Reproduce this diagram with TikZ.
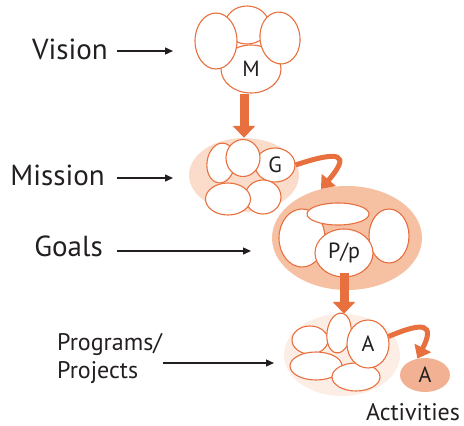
\documentclass[tikz,border=0pt]{standalone}
\usepackage{fontspec}
\setmainfont{PT Sans}
\usetikzlibrary{shapes.geometric,arrows.meta}
\definecolor{orng}{HTML}{E8703F}
\definecolor{misbg}{HTML}{FBDCCB}
\definecolor{goalbg}{HTML}{F6C0A3}
\definecolor{progbg}{HTML}{FCEEE5}
\definecolor{actbg}{HTML}{F2B193}
\definecolor{ink}{HTML}{231F20}
\tikzset{blob/.style={ellipse, draw=orng, fill=white, line width=1.1pt, inner sep=0pt, text=ink, font=\fontsize{22}{22}\selectfont}}
\tikzset{bg/.style={ellipse, inner sep=0pt}}
\tikzset{sz/.style 2 args={minimum width=#1pt, minimum height=#2pt}}
\tikzset{lbl/.style={inner sep=0pt, text=ink, font=\fontsize{29}{29}\selectfont}}
\tikzset{ptr/.style={ink, line width=1.4pt, -{Triangle[length=8pt,width=7pt]}}}
\tikzset{fat/.style={orng, line width=9pt, -{Triangle[length=12pt,width=22pt]}}}
\tikzset{curvy/.style={orng, line width=5pt, -{Triangle[length=12pt,width=18pt]}}}

\begin{document}
\begin{tikzpicture}[x=1pt, y=-1pt]
    \useasboundingbox (0,0) rectangle (464,426);
    % labels on the left
    \node[lbl, anchor=base east] (vision) at (108,59) {Vision};
    \node[lbl, anchor=base east] (mission) at (105,185) {Mission};
    \node[lbl, anchor=base east] (goals) at (103,256) {Goals};
    \node[lbl, anchor=west, align=left, font=\fontsize{24}{28}\selectfont] (progs) at (57,358) {Programs/\\Projects};
    \coordinate (visTip) at (173,51);
    \coordinate (misTip) at (173,178);
    \coordinate (goalTip) at (251,251);
    \coordinate (progTip) at (274,363);

    % shaded backgrounds
    \node[bg, fill=goalbg, sz={150}{104}] (goalBg) at (347,238) {};
    \node[bg, fill=misbg, sz={110}{74}] (misBg) at (244,175) {};
    \node[bg, fill=progbg, sz={116}{82}] (progBg) at (342,355) {};

    % vision
    \node[blob, sz={44}{38}] (visTop) at (247,25) {};
    \node[blob, sz={60}{48}] (visM) at (251,69) {M};
    \node[blob, sz={42}{56}] (visLeft) at (216,41) {};
    \node[blob, sz={40}{52}, rotate=6] (visRight) at (280,38) {};

    % mission
    \node[blob, sz={28}{40}, rotate=-8] (misA) at (221,163) {};
    \node[blob, sz={40}{34}] (misG) at (275,165) {G};
    \node[blob, sz={34}{37}] (misB) at (243,158) {};
    \node[blob, sz={36}{34}] (misD) at (263,197) {};
    \node[blob, sz={45}{32}] (misC) at (228,199) {};

    % goals
    \node[blob, sz={46}{58}] (goalLeft) at (302,238) {};
    \node[blob, sz={40}{54}] (goalRight) at (389,236) {};
    \node[blob, sz={62}{22}] (goalTop) at (338,214) {};
    \node[blob, sz={58}{48}] (goalP) at (344,253) {P/p};

    % programs / projects
    \node[blob, sz={36}{28}] (progA) at (310,340) {};
    \node[blob, sz={52}{28}] (progC) at (316,366) {};
    \node[blob, sz={48}{28}] (progD) at (356,377) {};
    \node[blob, sz={24}{40}, rotate=-8] (progB) at (339,333) {};
    \node[blob, sz={42}{48}] (progAct) at (368,344) {A};

    % activities
    \node[bg, fill=actbg, sz={50}{34}, text=ink, font=\fontsize{22}{22}\selectfont] (act) at (425,375) {A};
    \node[lbl, anchor=base, font=\fontsize{24}{24}\selectfont] (actLbl) at (413,420) {Activities};

    % arrows
    \draw[ptr, shorten <=9pt] (vision.east |- visTip) -- (visTip);
    \draw[ptr, shorten <=12pt] (mission.east |- misTip) -- (misTip);
    \draw[ptr, shorten <=14pt] (goals.east |- goalTip) -- (goalTip);
    \draw[ptr, shorten <=1pt] (progs.east |- progTip) -- (progTip);
    \draw[fat] (visM.south -| misBg.north) -- (misBg.north);
    \draw[fat] ([yshift=5pt]goalP.south) -- (goalP.south |- progBg.north);
    \draw[curvy] (misG.east) .. controls +(45,-15) and +(30,-35) .. (goalBg.118);
    \draw[curvy] (progAct.20) .. controls +(35,-15) and +(18,-35) .. (act.115);
\end{tikzpicture}
\end{document}
